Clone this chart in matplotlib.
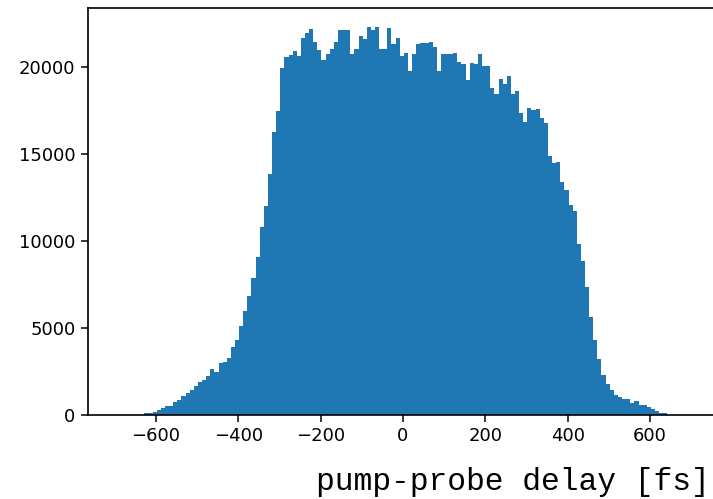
import numpy as np
from matplotlib import pyplot as plt

# histogram of pump-probe delays, 10 fs bins (counts)
bin_start = -628
bin_stop = 642
counts = [
    100, 110, 130, 260, 380, 470, 480, 720, 860, 1040,
    1240, 1420, 1640, 1850, 2000, 2190, 2590, 2470, 2935, 3030,
    3240, 3890, 4310, 5075, 5935, 6795, 7870, 9050, 10770, 12000,
    13810, 16270, 17480, 19940, 20570, 20690, 20920, 20610, 21660, 21950,
    22190, 21430, 20960, 20370, 20710, 21000, 21430, 22090, 22090, 22090,
    20710, 21000, 21760, 21570, 22290, 22100, 22290, 21000, 21000, 22200,
    21280, 21660, 20610, 20800, 19750, 20750, 21280, 21340, 21340, 21430,
    21130, 19750, 20750, 20750, 20750, 20800, 20270, 20170, 19220, 20230,
    20170, 20710, 20040, 20040, 18760, 18450, 19280, 18990, 19470, 18450,
    18610, 17360, 16850, 17650, 17520, 17560, 17040, 16790, 14880, 14460,
    14540, 13350, 12910, 12070, 11730, 9820, 8820, 7330, 5610, 4310,
    3220, 2265, 1730, 1400, 1120, 985, 870, 870, 675, 775,
    545, 545, 450, 315, 200, 100, 100,
]
xticks = [-600, -400, -200, 0, 200, 400, 600]
yticks = [0, 5000, 10000, 15000, 20000]

edges = np.linspace(bin_start, bin_stop, len(counts) + 1)
centers = 0.5 * (edges[:-1] + edges[1:])

fig = plt.figure(figsize=(7.13, 4.99), dpi=100)
ax = fig.add_axes([0.1234, 0.1693, 0.8836, 0.8156])
ax.hist(centers, bins=edges, weights=counts, color='#1f77b4')

ax.set_xlim(-765, 765)
ax.set_xticks(xticks)
ax.set_yticks(yticks)
ax.tick_params(labelsize=13, length=5, width=1.1, pad=4)
for s in ax.spines.values():
    s.set_linewidth(1.2)

fig.text(0.996, 0.018, "pump-probe delay [fs]", ha='right', va='baseline',
         family='Liberation Mono', fontsize=22.5)

fig.savefig('out.png', dpi=100)
